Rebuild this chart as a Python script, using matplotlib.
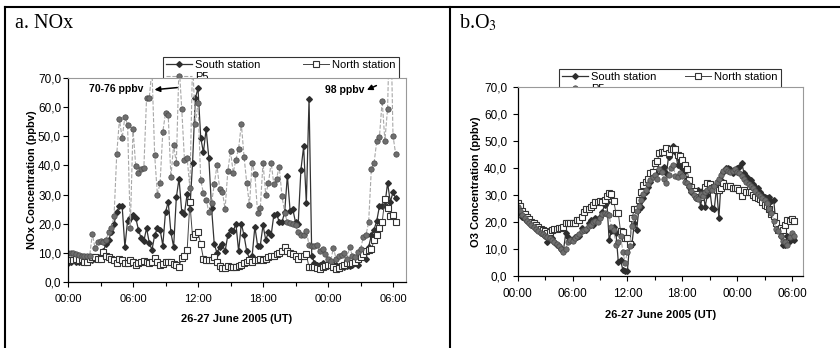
import matplotlib
matplotlib.use("Agg")
import matplotlib.pyplot as plt
import numpy as np
from matplotlib.ticker import FuncFormatter, MultipleLocator
from matplotlib.lines import Line2D

plt.rcParams["font.family"] = ["Liberation Sans", "DejaVu Sans"]

# 15 minute data, 26-27 June 2005, starting 00:00 UT
nox_south = [6.5, 7, 7.5, 7, 7, 7.5, 8, 7.5, 8, 7.5, 8, 8.5, 9, 10.5, 13, 14.5,
             17, 20, 24, 26, 26, 12, 21, 22, 23, 22, 18, 15, 14, 18.5, 13.5, 11,
             16, 18.5, 18, 12.5, 24, 27.5, 17, 12, 29, 35.5, 24, 23.5, 30.3, 25, 41, 63,
             66.5, 49.5, 44.5, 52.5, 42.5, 25.5, 13, 10, 12, 13, 10.5, 16, 18, 17.5, 20, 10.5,
             20, 16, 10.5, 8, 9, 19, 12.5, 12.5, 19.5, 14.5, 17, 16, 23, 23.5, 20.5, 20.5,
             24, 36.5, 24.5, 25, 20.5, 20, 38.5, 46.5, 27, 62.8, 9, 6.5, 6, 6, 6.5, 6,
             6, 5.5, 5.5, 6, 5.5, 6, 5, 5.5, 5.5, 6, 6.5, 6, 9, 9, 8, 12,
             16, 18, 21, 26, 26, 26.5, 34, 27.5, 30.8, 28.7]
nox_north = [7.5, 7.5, 7.5, 8, 7.5, 7.8, 7, 7, 8, 8.5, 8.5, 8, 8, 10.2, 9, 8.5,
             8, 7.5, 6.5, 8, 7.5, 6.5, 6.5, 7.5, 6.8, 6, 6.5, 7, 7.2, 6.8, 6.5, 7,
             8.3, 6.8, 6, 6.2, 6.8, 7, 7, 6.3, 5.8, 5.3, 8.3, 9, 11, 27.3, 15.3, 16.5,
             17, 13, 8, 7.5, 7.5, 7.5, 8.5, 6.8, 5.5, 4.8, 4.8, 5.5, 5, 5.3, 5.3, 5.5,
             6, 6.5, 7, 7.5, 7, 7.5, 7.5, 8, 7.5, 8, 8.5, 9, 9, 9.5, 10, 10.5,
             12, 10.5, 10, 9.5, 9, 8, 9, 9, 9.5, 5, 5, 5, 4.8, 4.5, 5, 5.5,
             5.8, 6, 5.2, 4.5, 4.8, 5.5, 6, 6.5, 6.5, 6.5, 7, 8, 8.5, 9.5, 10.5, 11,
             11.2, 14.3, 16, 18.5, 20.5, 28.5, 25.5, 22.5, 23, 20.5]
nox_p5 = [9.8, 10, 9.8, 9.5, 9.3, 9, 9, 8.8, 9, 16.5, 11.5, 13.8, 14, 13.8, 14.5, 17,
          18.5, 22.5, 44, 55.8, 49.3, 56.7, 54, 18.4, 52.6, 39.8, 37.3, 38.9, 39, 63, 63.2, 73,
          43.6, 30, 34, 51.5, 57.9, 57.2, 36, 47, 40.7, 75, 59.3, 42, 42.5, 32.2, 76, 54.3,
          61.5, 35, 30.5, 28.3, 24, 27, 33.5, 40, 32, 31, 25, 38, 45, 37.5, 42, 45.8,
          54.3, 43, 34, 26.3, 41, 37, 23.8, 25.3, 41, 30, 33.8, 41, 33.5, 35.5, 39.5, 29.5,
          23.8, 20.5, 20.3, 20, 19.5, 17, 16, 16, 17.5, 12.7, 12.5, 12.5, 12.7, 10.5, 11.2, 9.5,
          8, 7.2, 11.8, 7.8, 8.9, 9.4, 10, 8, 12.1, 9, 8.5, 10.3, 11.2, 15.3, 16, 20.5,
          38.7, 40.8, 48.3, 49.8, 62.2, 48.5, 59.5, 98, 50.2, 43.8]

o3_south = [25, 23.5, 22, 21, 20.5, 20, 19, 18.5, 17.5, 17, 16, 15.5, 15, 12.7, 14, 14,
            12.7, 11.5, 11, 9.9, 9.4, 15.8, 14.6, 13.3, 13.3, 14.6, 14.6, 14.8, 17.7, 17, 17, 19.8,
            20.7, 18.9, 21.4, 21, 22, 23.8, 26.3, 27.5, 13.3, 16.8, 18, 15.8, 5.3, 5.9, 2.2, 2,
            2, 12.3, 12, 19.5, 17, 24.7, 25.7, 29, 31, 33, 35, 37, 38, 38.5, 39, 39.5,
            40.5, 38, 44, 47, 48, 46, 41, 43, 40, 39, 36, 33, 31, 30.5, 29, 32,
            25.5, 32, 25.7, 30, 32, 25.3, 25, 33, 21.4, 35.5, 38.5, 40, 40, 39.5, 38, 39,
            40, 40.5, 42, 38, 37, 36, 35.5, 34, 33, 32.5, 31, 30, 29.4, 29, 29.4, 27.8,
            28, 19, 17, 15, 11.5, 11.5, 15, 13, 14, 13.5]
o3_north = [27, 26, 24, 23, 22, 21, 20, 19.5, 19, 18, 17.5, 17, 16.5, 16, 16.4, 17,
            17.3, 17.3, 17.7, 17.7, 18.3, 19.5, 19.8, 19.8, 19.8, 19.8, 20.7, 20.7, 22, 23.8, 24.7, 25,
            25.4, 26.3, 27.5, 27.5, 27.8, 27.5, 28, 29.6, 30.9, 30.5, 27.8, 23.2, 23.2, 16.5, 16.4, 14,
            14, 12, 21.4, 24.7, 25, 28, 31, 33.7, 35, 36, 38, 38.6, 41.7, 42.7, 45.4, 46,
            46, 47.5, 45.7, 47, 47, 46.9, 44.8, 44.5, 43, 41, 39.5, 35.5, 33, 31.6, 30.5, 29.4,
            29.1, 30.5, 33, 34.6, 34, 32.5, 33, 32, 31.9, 32.5, 34.3, 33.5, 33.5, 33.3, 32.5, 32.5,
            32.5, 31.9, 29.6, 31.9, 31.2, 31.2, 31, 30, 29.4, 29, 28.4, 27.5, 26.3, 25.9, 24.7, 23,
            22.2, 19.5, 17, 17.7, 17, 18.9, 20.7, 20.5, 21.1, 20.5]
o3_p5 = [25.5, 24, 22.5, 21.5, 20.5, 19.5, 19, 18, 17.5, 16.5, 16, 15.5, 15, 14.5, 14, 13.5,
         12.5, 12, 11, 10, 9, 10, 12.5, 13.5, 13, 14, 15, 15.5, 16.5, 17, 17.5, 18.5,
         19, 20, 20.5, 20, 21.5, 23, 23.5, 23, 22.5, 18, 17, 11.5, 12.5, 15, 9, 5,
         9, 11, 18.5, 22, 24, 26, 28, 30.5, 32, 34, 35.5, 36.5, 37.5, 36, 39.5, 38.5,
         36, 34.5, 37.5, 40, 41, 37, 36.5, 38, 37, 35, 34.5, 33.5, 31.5, 30, 29, 28.5,
         30.5, 29.5, 31, 32, 32.5, 32, 33.5, 35, 36, 37.5, 39, 39.5, 39, 38.5, 39, 39.5,
         38.5, 38, 37, 36, 35, 34, 33.5, 32.5, 31.5, 30.5, 29.5, 29, 28, 27, 25, 23.5,
         20.5, 17.5, 16.5, 15, 13, 12.5, 11.5, 14.5, 16, 15]

tick_hours = [0, 6, 12, 18, 24, 30]
tick_labels = ["00:00", "06:00", "12:00", "18:00", "00:00", "06:00"]


def hours(series):
    return np.arange(len(series)) * 0.25


def comma(v, pos):
    return ("%.1f" % v).replace(".", ",")


fig = plt.figure(figsize=(8.4, 3.48), dpi=100)

# table-like frame lines
frame = dict(color="black", lw=1.5, transform=fig.transFigure)
fig.add_artist(Line2D([5 / 840, 1.0], [1 - 7 / 348, 1 - 7 / 348], **frame))
fig.add_artist(Line2D([5 / 840, 5 / 840], [0, 1 - 7 / 348], **frame))
fig.add_artist(Line2D([450 / 840, 450 / 840], [0, 1 - 7 / 348], **frame))

fig.text(15 / 840, 1 - 28 / 348, "a. NOx", family="Liberation Serif", fontsize=14.5)
fig.text(459 / 840, 1 - 28 / 348, "b.O$_3$", family="Liberation Serif", fontsize=14.5,
         math_fontfamily="stix")

ax1 = fig.add_axes([68 / 840, 1 - 282 / 348, 338 / 840, 204 / 348])
ax2 = fig.add_axes([517.7 / 840, 1 - 276 / 348, 285.3 / 840, 189 / 348])


def draw(ax, south, north, p5, ysize, xsize, ypad):
    l1, = ax.plot(hours(south), south, "-", color="#333333", lw=0.9, marker="D",
                  ms=2.9, mfc="#2e2e2e", mec="#2e2e2e", label="South station")
    l2, = ax.plot(hours(north), north, "-", color="#444444", lw=0.7, marker="s",
                  ms=4.3, mfc="white", mec="#333333", mew=0.8, label="North station")
    l3, = ax.plot(hours(p5), p5, "--", color="#a8a8a8", lw=0.8, marker="o",
                  ms=3.9, mfc="#6e6e6e", mec="#4a4a4a", mew=0.5, label="P5")
    ax.set_xlim(0, 31.2)
    ax.set_ylim(0, 70)
    ax.set_xticks(tick_hours)
    ax.set_xticklabels(tick_labels)
    ax.xaxis.set_minor_locator(MultipleLocator(3))
    ax.yaxis.set_major_locator(MultipleLocator(10))
    ax.yaxis.set_major_formatter(FuncFormatter(comma))
    ax.tick_params(axis="both", which="major", length=3.5, width=0.8, direction="out")
    ax.tick_params(axis="y", which="major", labelsize=ysize, pad=ypad)
    ax.tick_params(axis="x", which="major", labelsize=xsize, pad=5)
    ax.tick_params(axis="x", which="minor", length=3, width=0.8, direction="out")
    for s in ["top", "right"]:
        ax.spines[s].set_color("#999999")
        ax.spines[s].set_linewidth(0.8)
    for s in ["left", "bottom"]:
        ax.spines[s].set_color("black")
        ax.spines[s].set_linewidth(0.9)
    ax.set_xlabel("26-27 June 2005 (UT)", fontsize=8, fontweight="bold")
    return [l1, l3, l2]


h1 = draw(ax1, nox_south, nox_north, nox_p5, 8.5, 8, 1.5)
h2 = draw(ax2, o3_south, o3_north, o3_p5, 8.5, 8.5, 4)

ax1.set_ylabel("NOx Concentration (ppbv)", fontsize=8, fontweight="bold", labelpad=1)
ax1.xaxis.labelpad = 7
ax2.set_ylabel("O3 Concentration (ppbv)", fontsize=8, fontweight="bold", labelpad=2)
ax2.xaxis.labelpad = 7

# annotations for off-scale P5 peaks
ax1.annotate("", xy=(7.73, 65.9), xytext=(10.34, 66.8),
             arrowprops=dict(arrowstyle="-|>", color="black", lw=1.1, mutation_scale=8))
ax1.text(1.94, 66.2, "70-76 ppbv", fontsize=7.5, fontweight="bold", va="center")
ax1.annotate("", xy=(27.36, 65.5), xytext=(28.7, 67.8),
             arrowprops=dict(arrowstyle="-|>", color="black", lw=1.1, mutation_scale=8))
ax1.text(23.7, 65.9, "98 ppbv", fontsize=7.5, fontweight="bold", va="center")

# legends sit behind the plot areas, so their second row is partly hidden
for handles, x0, x1, top in [(h1, 163, 399, 57), (h2, 559, 781, 69)]:
    leg = fig.legend(handles=handles, ncol=2, loc="upper left",
                     bbox_to_anchor=(x0 / 840, 1 - top / 348, (x1 - x0) / 840, 0),
                     mode="expand", fontsize=8, frameon=True, fancybox=False,
                     edgecolor="black", borderaxespad=0, borderpad=0.3,
                     labelspacing=0.15, handlelength=2.3, handletextpad=0.3,
                     columnspacing=1.5)
    leg.get_frame().set_linewidth(0.8)
    leg.set_zorder(-1)

fig.savefig("out.png", dpi=100)
